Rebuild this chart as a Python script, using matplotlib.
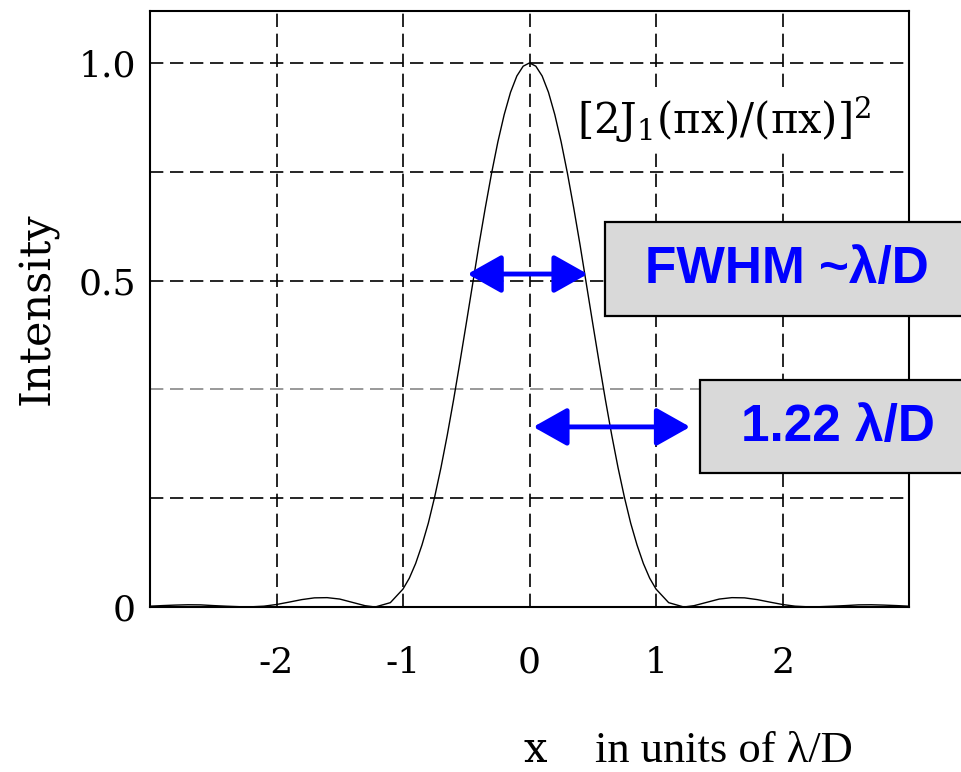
import numpy as np
import matplotlib
matplotlib.use("Agg")
import matplotlib.pyplot as plt
from matplotlib.patches import Rectangle

# perfil de intensidad (mitad derecha, simetrico)
x_half = [0.0, 0.05, 0.1, 0.15, 0.2, 0.25, 0.3, 0.35, 0.4, 0.45, 0.5, 0.55,
          0.6, 0.65, 0.7, 0.75, 0.8, 0.85, 0.9, 0.95, 1.0, 1.1, 1.22, 1.3,
          1.4, 1.5, 1.6, 1.7, 1.8, 1.9, 2.0, 2.1, 2.23, 2.4, 2.5, 2.6, 2.7,
          2.8, 2.9, 3.0]
i_half = [1.000, 0.994, 0.976, 0.946, 0.905, 0.855, 0.797, 0.733, 0.665,
          0.593, 0.521, 0.450, 0.381, 0.316, 0.256, 0.202, 0.154, 0.114,
          0.080, 0.053, 0.033, 0.008, 0.0, 0.0024, 0.0085, 0.0146, 0.0172,
          0.0168, 0.0136, 0.0090, 0.0046, 0.0015, 0.0, 0.0015, 0.0026,
          0.0039, 0.0041, 0.0035, 0.0026, 0.0015]

x_ticks = [-2, -1, 0, 1, 2]
x_tick_labels = ["-2", "-1", "0", "1", "2"]
y_ticks = [0.0, 0.2, 0.4, 0.6, 0.8, 1.0]
y_tick_labels = ["0", "", "", "0.5", "", "1.0"]

fwhm_span = [-0.49, 0.46]     # flecha FWHM
fwhm_level = 0.612
airy_span = [0.03, 1.27]      # flecha 1.22 lambda/D
airy_level = 0.331

x = np.concatenate([-np.array(x_half[::-1]), np.array(x_half[1:])])
y = np.concatenate([np.array(i_half[::-1]), np.array(i_half[1:])])

W, H = 961, 772
fig = plt.figure(figsize=(W / 100, H / 100), dpi=100)
ax = fig.add_axes([150 / W, 165 / H, 759 / W, 596.3 / H])

ax.plot(x, y, color="black", lw=1.0, zorder=3)
ax.set_xlim(-3, 3)
ax.set_ylim(0, 1.096)

ax.set_xticks(x_ticks)
ax.set_xticklabels(x_tick_labels)
ax.set_yticks(y_ticks)
ax.set_yticklabels(y_tick_labels)
ax.tick_params(length=0, labelsize=26)
ax.tick_params(axis="x", pad=28)
ax.tick_params(axis="y", pad=10)
for lab in ax.get_xticklabels() + ax.get_yticklabels():
    lab.set_family("DejaVu Serif")

ax.grid(True, color="black", lw=1.2, dashes=(8, 4))
ax.yaxis.get_gridlines()[2].set_color("#888888")
for s in ax.spines.values():
    s.set_linewidth(1.5)

ax.set_ylabel("Intensity", fontsize=31, family="DejaVu Serif", labelpad=14)

# formula
ax.text(0.375, 0.895, r"$[2\mathrm{J}_1(\mathrm{πx})/(\mathrm{πx})]^2$",
        fontsize=30, ha="left", va="center", zorder=4,
        math_fontfamily="dejavuserif",
        bbox=dict(facecolor="white", edgecolor="none", pad=3))

# flechas
arrow = dict(arrowstyle="<|-|>,head_length=0.8,head_width=0.45", color="blue",
             lw=3.5, shrinkA=0, shrinkB=0, mutation_scale=26)
ax.annotate("", xy=(fwhm_span[1], fwhm_level), xytext=(fwhm_span[0], fwhm_level),
            arrowprops=arrow, zorder=5)
ax.annotate("", xy=(airy_span[1], airy_level), xytext=(airy_span[0], airy_level),
            arrowprops=arrow, zorder=5)

# cajas grises
def caja(x0, y0, x1, y1, texto, cx, cy):
    fig.add_artist(Rectangle((x0 / W, 1 - y1 / H), (x1 - x0) / W, (y1 - y0) / H,
                             transform=fig.transFigure, facecolor="#d9d9d9",
                             edgecolor="black", lw=1.6, zorder=5))
    fig.text(cx / W, 1 - cy / H, texto, color="blue", fontsize=37,
             fontweight="bold", family="Liberation Sans",
             ha="center", va="center", zorder=6)

caja(605, 222, 975, 316, "FWHM ~λ/D", 787, 269)
caja(700, 380, 975, 473, "1.22 λ/D", 838, 427)

# etiqueta eje x
fig.text(523 / W, 10 / H, "x", fontsize=30, family="DejaVu Serif",
         ha="left", va="baseline")
fig.text(595 / W, 10 / H, "in units of λ/D", fontsize=32,
         family="Liberation Serif", ha="left", va="baseline")

fig.savefig("out.png", dpi=100)
